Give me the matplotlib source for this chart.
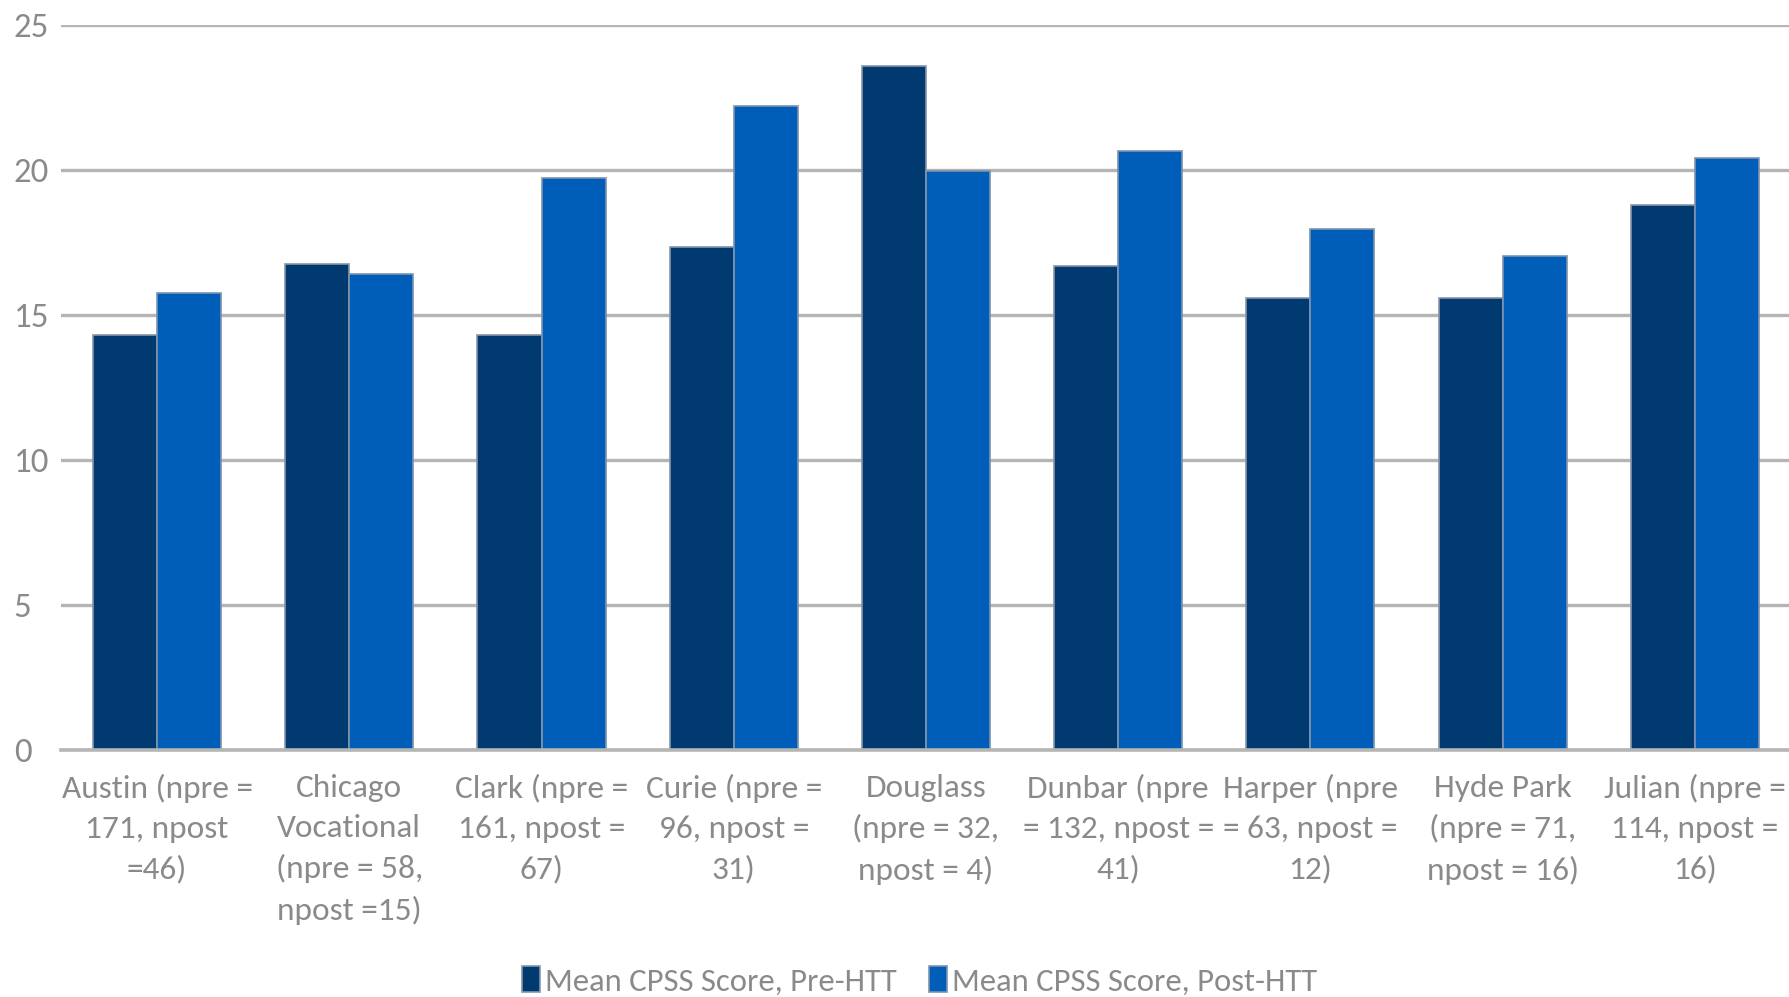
import numpy as np
import matplotlib.pyplot as plt

# school labels (as wrapped in the original chart)
schools = ['Austin (npre =\n171, npost\n=46)',
           'Chicago\nVocational\n(npre = 58,\nnpost =15)',
           'Clark (npre =\n161, npost =\n67)',
           'Curie (npre =\n96, npost =\n31)',
           'Douglass\n(npre = 32,\nnpost = 4)',
           'Dunbar (npre\n= 132, npost =\n41)',
           'Harper (npre\n= 63, npost =\n12)',
           'Hyde Park\n(npre = 71,\nnpost = 16)',
           'Julian (npre =\n114, npost =\n16)']
pre_htt = [14.3, 16.75, 14.3, 17.35, 23.6, 16.7, 15.6, 15.6, 18.8]
post_htt = [15.75, 16.4, 19.72, 22.2, 19.95, 20.65, 17.95, 17.05, 20.4]
yticks = [0, 5, 10, 15, 20, 25]

plt.rcParams['font.family'] = ['Carlito', 'Lato', 'DejaVu Sans']

fig = plt.figure(figsize=(17.89, 9.97), dpi=100)
ax = fig.add_axes([0.0341, 0.2477, 0.967, 0.7272])

x = np.arange(len(schools))
w = 1 / 3
ax.bar(x - w / 2, pre_htt, w, color='#003a70', edgecolor='#8796a8', linewidth=1.2,
       label='Mean CPSS Score, Pre-HTT', zorder=3)
ax.bar(x + w / 2, post_htt, w, color='#005eb8', edgecolor='#7d93b0', linewidth=1.2,
       label='Mean CPSS Score, Post-HTT', zorder=3)

ax.set_xlim(-0.5, len(schools) - 0.5)
ax.set_ylim(0, 25)
ax.set_yticks(yticks)
ax.set_yticklabels([str(t) for t in yticks], fontsize=25, color='#8a8a8a', ha='left')
ax.set_xticks(x)
ax.set_xticklabels(schools, fontsize=24, color='#8a8a8a', linespacing=1.52)
ax.tick_params(axis='both', length=0)
ax.tick_params(axis='x', pad=17)
ax.tick_params(axis='y', pad=34)

ax.grid(axis='y', color='#b5b5b5', linewidth=2.4, zorder=0)
for s in ['top', 'right', 'left']:
    ax.spines[s].set_visible(False)
ax.spines['bottom'].set_color('#b5b5b5')
ax.spines['bottom'].set_linewidth(2.6)
ax.spines['bottom'].set_zorder(4)

fig.legend(loc='center', bbox_to_anchor=(0.514, 0.016), ncol=2, frameon=False,
           fontsize=23.5, labelcolor='#8a8a8a', handlelength=0.55, handleheight=0.85,
           handletextpad=0.15, columnspacing=1.0)

fig.savefig('out.png', dpi=100)
